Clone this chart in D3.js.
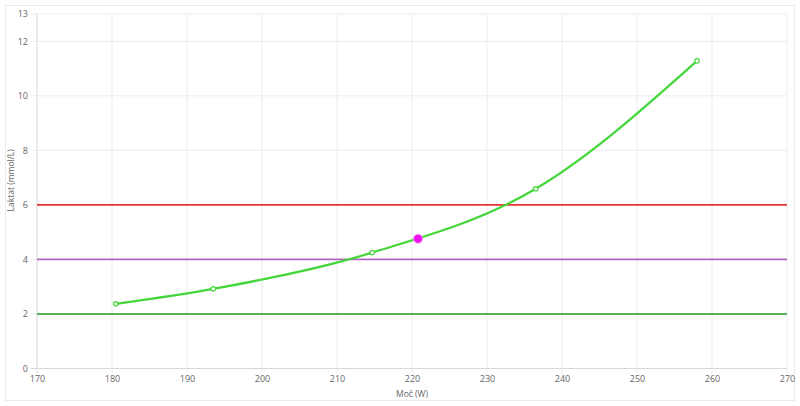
<!DOCTYPE html>
<html>
  <head>
    <meta charset="utf-8">
    <script src="https://d3js.org/d3.v7.min.js"></script>
    <style>
      body { margin: 0; font-family: "Open Sans", sans-serif; background: #fff; }
      .tick text { fill: #666; font-size: 9px; }
    </style>
  </head>
  <body>
    <div id="chart"></div>
    <script>
        // data
        var power = [180.5, 193.5, 214.7, 236.5, 258];
        var lactate = [2.37, 2.92, 4.25, 6.59, 11.28];
        var marker = [220.8, 4.76];
        var thresholds = [6, 4, 2];
        var thresholdColors = ['#ee3333', '#b064c4', '#1f9f1f'];
        var xTicks = [170, 180, 190, 200, 210, 220, 230, 240, 250, 260, 270];
        var yTicks = [0, 2, 4, 6, 8, 10, 12, 13];

        var width = 800, height = 406;
        var plotLeft = 37, plotRight = 787, plotTop = 14, plotBottom = 368.5;

        var x = d3.scaleLinear().domain([170, 270]).range([plotLeft, plotRight]);
        var y = d3.scaleLinear().domain([0, 13]).range([plotBottom, plotTop]);

        var svg = d3.select("#chart").append("svg")
            .attr("width", width)
            .attr("height", height);

        // outer frame
        svg.append("rect")
            .attr("x", 5.5).attr("y", 5.5)
            .attr("width", 789).attr("height", 395)
            .attr("fill", "none")
            .attr("stroke", "#eaeaea");

        // grid
        svg.append("g").selectAll("line").data(xTicks).enter().append("line")
            .attr("x1", function(d){ return x(d); })
            .attr("x2", function(d){ return x(d); })
            .attr("y1", plotTop).attr("y2", plotBottom + 5)
            .attr("stroke", function(d){ return d == 170 ? "#d8d8d8" : "#ececec"; });
        svg.append("g").selectAll("line").data(yTicks).enter().append("line")
            .attr("y1", function(d){ return y(d); })
            .attr("y2", function(d){ return y(d); })
            .attr("x1", plotLeft - 6).attr("x2", plotRight)
            .attr("stroke", function(d){ return d == 0 ? "#d8d8d8" : "#ececec"; });

        var xAxis = svg.append("g")
            .attr("transform", "translate(0," + plotBottom + ")")
            .call(d3.axisBottom(x).tickValues(xTicks).tickSize(0).tickPadding(7));
        xAxis.select(".domain").remove();

        var yAxis = svg.append("g")
            .attr("transform", "translate(" + plotLeft + ",0)")
            .call(d3.axisLeft(y).tickValues(yTicks).tickSize(0).tickPadding(9));
        yAxis.select(".domain").remove();
        svg.selectAll(".tick text").attr("font-family", "Open Sans, sans-serif");

        // axis titles
        svg.append("text")
            .text("Moč (W)")
            .attr("x", (plotLeft + plotRight) / 2).attr("y", 397)
            .attr("text-anchor", "middle")
            .attr("fill", "#666").attr("font-size", 8.5);
        svg.append("text")
            .text("Laktat (mmol/L)")
            .attr("transform", "translate(14," + (y(6.9)) + ") rotate(-90)")
            .attr("text-anchor", "middle")
            .attr("fill", "#666").attr("font-size", 8.5);

        // threshold lines
        svg.append("g").selectAll("line").data(thresholds).enter().append("line")
            .attr("x1", plotLeft).attr("x2", plotRight)
            .attr("y1", function(d){ return y(d); })
            .attr("y2", function(d){ return y(d); })
            .attr("stroke", function(d, i){ return thresholdColors[i]; })
            .attr("stroke-width", 1.6);

        // lactate curve
        var pts = power.map(function(p, i){ return [p, lactate[i]]; });
        var line = d3.line()
            .x(function(d){ return x(d[0]); })
            .y(function(d){ return y(d[1]); })
            .curve(d3.curveMonotoneX);
        svg.append("path")
            .datum(pts)
            .attr("d", line)
            .attr("fill", "none")
            .attr("stroke", "#44d63a")
            .attr("stroke-width", 2.2);

        svg.append("g").selectAll("circle").data(pts).enter().append("circle")
            .attr("cx", function(d){ return x(d[0]); })
            .attr("cy", function(d){ return y(d[1]); })
            .attr("r", 2.2)
            .attr("fill", "#fff")
            .attr("stroke", "#44d63a")
            .attr("stroke-width", 1.2);

        svg.append("circle")
            .attr("cx", x(marker[0]))
            .attr("cy", y(marker[1]))
            .attr("r", 4.5)
            .attr("fill", "#ee11ee")
            .attr("stroke", "#f7a0f7")
            .attr("stroke-width", 1);
    </script>
  </body>
</html>
